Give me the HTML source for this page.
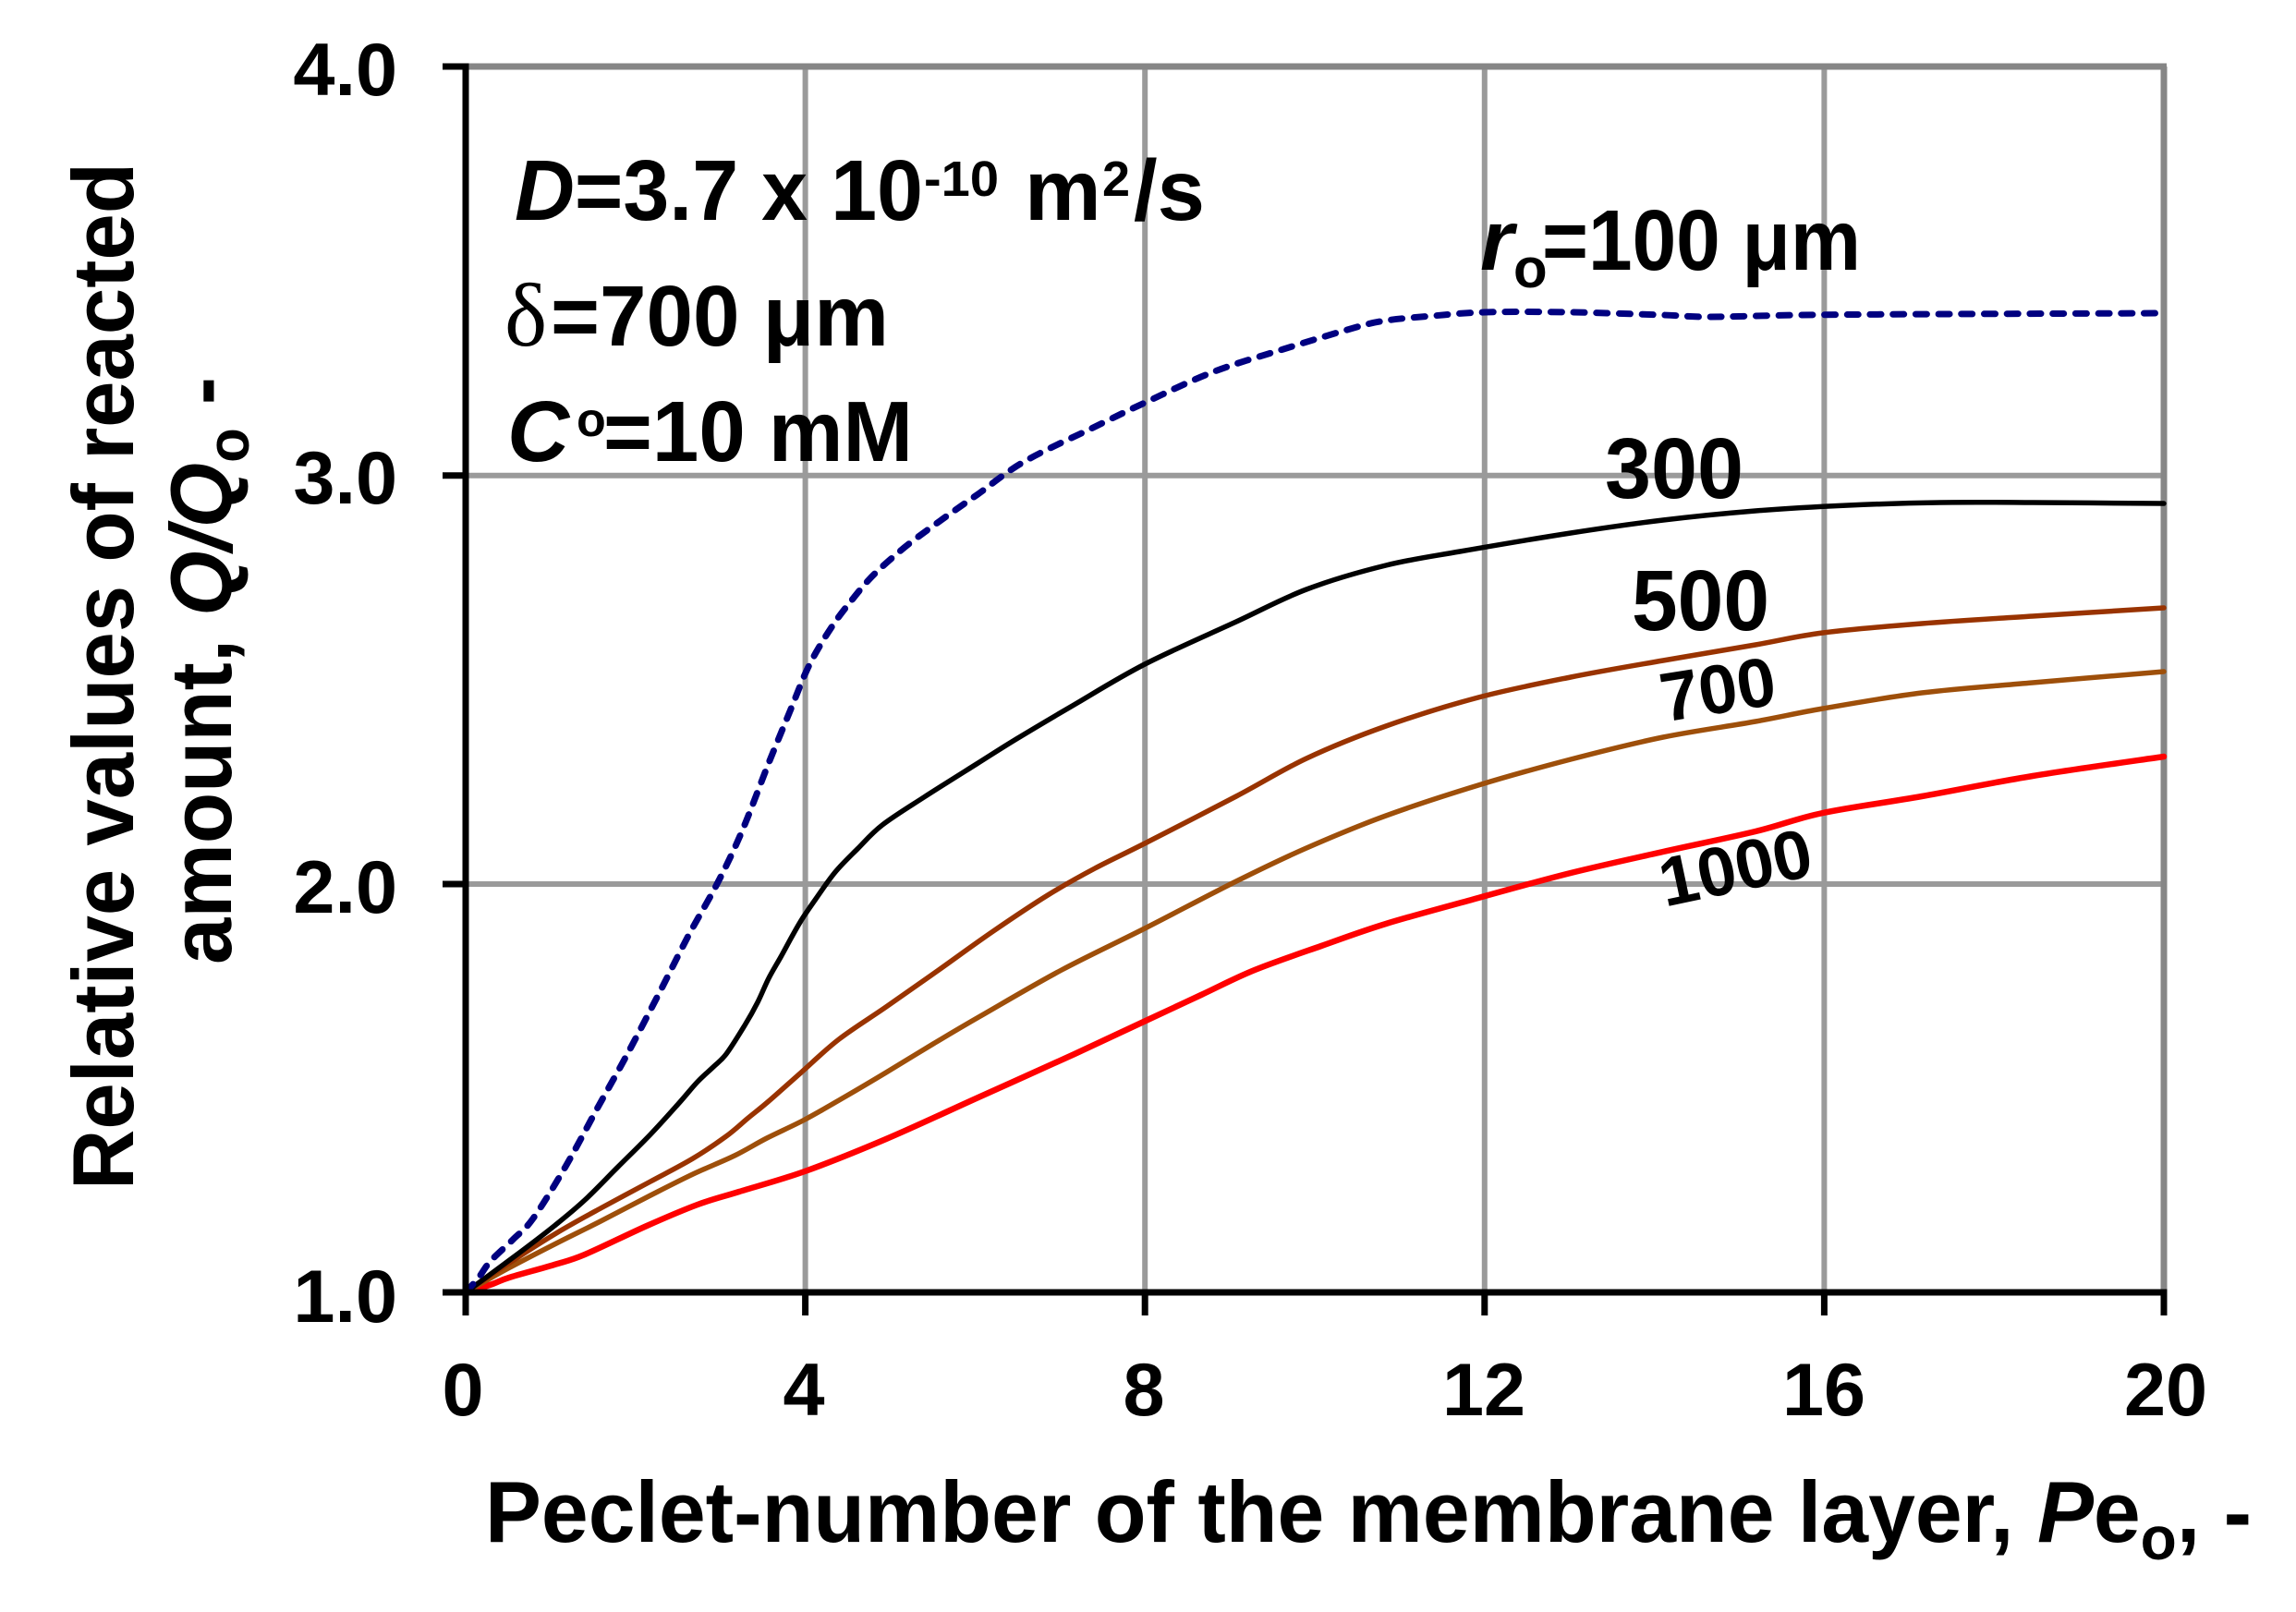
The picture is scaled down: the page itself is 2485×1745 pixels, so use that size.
<!DOCTYPE html>
<html>
<head>
<meta charset="utf-8">
<style>
  html, body { margin: 0; padding: 0; background: #ffffff; }
  svg { display: block; }
  text { font-family: "Liberation Sans", Arial, sans-serif; font-weight: bold; fill: #000; }
</style>
</head>
<body>
<svg id="chart" width="2485" height="1745" viewBox="0 0 2485 1745" xmlns="http://www.w3.org/2000/svg">
  <rect x="0" y="0" width="2485" height="1745" fill="#ffffff"/>

  <!-- gridlines -->
  <g stroke="#9a9a9a" stroke-width="6" fill="none">
    <line x1="871.6" y1="72" x2="871.6" y2="1399"/>
    <line x1="1239.2" y1="72" x2="1239.2" y2="1399"/>
    <line x1="1606.8" y1="72" x2="1606.8" y2="1399"/>
    <line x1="1974.4" y1="72" x2="1974.4" y2="1399"/>
    <line x1="504" y1="957" x2="2342" y2="957"/>
    <line x1="504" y1="514.7" x2="2342" y2="514.7"/>
  </g>
  <g stroke="#868686" stroke-width="7" fill="none">
    <line x1="504" y1="72" x2="2345" y2="72"/>
    <line x1="2342" y1="72" x2="2342" y2="1399"/>
  </g>

  <!-- curves -->
  <g fill="none" stroke-linejoin="round" stroke-linecap="round">
    <!-- 1000 -->
    <polyline class="sm" stroke="#ff0000" stroke-width="6.5" points="504,1399 533,1390 551,1383 600,1369 633,1358 700,1327 755,1304 800,1290 871,1268 959,1233 1061,1187 1163,1141 1240,1105 1300,1077 1358,1050 1430,1024 1500,1000 1600,972 1700,945 1800,922 1900,900 1973,880 2080,862 2200,840 2342,819"/>
    <!-- 700 -->
    <polyline class="sm" stroke="#9e4f0a" stroke-width="5.5" points="504,1399 550,1373 602,1346 650,1322 704,1294 750,1271 795,1251 830,1232 871,1212 915,1187 959,1161 1010,1130 1061,1100 1149,1050 1239,1005 1338,954 1414,918 1500,883 1600,850 1700,822 1800,798 1900,781 1973,767 2080,750 2200,739 2342,727"/>
    <!-- 500 -->
    <polyline class="sm" stroke="#993300" stroke-width="5.5" points="504,1399 550,1368 602,1335 650,1308 704,1279 750,1254 786,1230 810,1210 832,1192 867,1161 908,1125 959,1090 1016,1050 1075,1008 1134,969 1185,940 1239,913 1338,862 1414,821 1500,786 1600,755 1700,733 1800,715 1900,698 1973,685 2080,675 2200,667 2342,658"/>
    <!-- 300 -->
    <polyline class="sm" stroke="#000000" stroke-width="5.5" points="504,1399 530,1380 561,1357 600,1327 633,1299 668,1264 704,1228 735,1194 755,1171 772,1155 786,1141 806,1110 820,1085 832,1059 845,1036 857,1014 868,995 883,973 904,944 928,919 955,893 1000,863 1057,827 1100,800 1159,765 1239,719 1338,673 1414,638 1500,612 1580,597 1700,577 1800,563 1900,553 2000,547 2100,544 2200,544 2342,545"/>
    <!-- 100 dashed -->
    <polyline class="sm" stroke="#000080" stroke-width="7" stroke-dasharray="12 12.7" points="504,1399 518,1383 531,1365 555,1342 577,1319 612,1263 648,1197 679,1141 714,1074 745,1013 776,957 803,900 832,826 857,765 873,726 888,698 904,673 920,652 940,628 962,607 986,587 1020,562 1057,536 1108,500 1185,462 1239,436 1312,403 1389,378 1465,355 1500,347 1550,342 1607,338 1700,338 1800,341 1850,343 1950,341 2100,340 2342,339"/>
  </g>

  <!-- axes -->
  <g stroke="#000" stroke-width="7" fill="none">
    <line x1="504" y1="68.5" x2="504" y2="1402.5"/>
    <line x1="500.5" y1="1399" x2="2345.5" y2="1399"/>
    <line x1="479" y1="72" x2="504" y2="72"/>
    <line x1="479" y1="514.7" x2="504" y2="514.7"/>
    <line x1="479" y1="957" x2="504" y2="957"/>
    <line x1="479" y1="1399" x2="504" y2="1399"/>
    <line x1="504" y1="1399" x2="504" y2="1424"/>
    <line x1="871.6" y1="1399" x2="871.6" y2="1424"/>
    <line x1="1239.2" y1="1399" x2="1239.2" y2="1424"/>
    <line x1="1606.8" y1="1399" x2="1606.8" y2="1424"/>
    <line x1="1974.4" y1="1399" x2="1974.4" y2="1424"/>
    <line x1="2342" y1="1399" x2="2342" y2="1424"/>
  </g>

  <!-- y tick labels -->
  <g font-size="81" text-anchor="end">
    <text x="430" y="103">4.0</text>
    <text x="430" y="545">3.0</text>
    <text x="430" y="988">2.0</text>
    <text x="430" y="1431">1.0</text>
  </g>
  <!-- x tick labels -->
  <g font-size="81" text-anchor="middle">
    <text x="501" y="1532">0</text>
    <text x="870" y="1532">4</text>
    <text x="1238" y="1532">8</text>
    <text x="1606" y="1532">12</text>
    <text x="1974" y="1532">16</text>
    <text x="2344" y="1532">20</text>
  </g>

  <!-- x axis title -->
  <text x="525" y="1669" font-size="94" textLength="1912" lengthAdjust="spacingAndGlyphs">Peclet-number of the membrane layer, <tspan font-style="italic">P</tspan>e<tspan font-size="66" dy="19">o</tspan><tspan dy="-19">, -</tspan></text>

  <!-- y axis title -->
  <text transform="translate(144,1288) rotate(-90)" x="0" y="0" font-size="94" textLength="1112" lengthAdjust="spacingAndGlyphs">Relative values of reacted</text>
  <text transform="translate(250,1044) rotate(-90)" x="0" y="0" font-size="94" textLength="636" lengthAdjust="spacingAndGlyphs">amount, <tspan font-style="italic">Q/Q</tspan><tspan font-size="64" dy="19">o</tspan><tspan dy="-19"> -</tspan></text>

  <!-- annotation block -->
  <text x="557" y="238" font-size="93" textLength="442" lengthAdjust="spacingAndGlyphs"><tspan font-style="italic">D</tspan>=3.7 x 10</text>
  <text x="1000" y="212" font-size="54" textLength="81" lengthAdjust="spacingAndGlyphs">-10</text>
  <text x="1109" y="238" font-size="93">m</text>
  <text x="1193" y="212" font-size="54">2</text>
  <text x="1227" y="238" font-size="93" textLength="77" lengthAdjust="spacingAndGlyphs">/s</text>

  <text x="546" y="374" font-size="98" style="font-family:'Liberation Serif','Times New Roman',serif;font-weight:normal">δ</text>
  <text x="596" y="374" font-size="93" textLength="366" lengthAdjust="spacingAndGlyphs">=700 μm</text>

  <text x="549" y="499" font-size="93" font-style="italic">C</text>
  <text x="624" y="472" font-size="52">o</text>
  <text x="653" y="499" font-size="93" textLength="335" lengthAdjust="spacingAndGlyphs">=10 mM</text>

  <!-- curve labels -->
  <text x="1602" y="292" font-size="93" font-style="italic">r</text>
  <text x="1638" y="311" font-size="60">o</text>
  <text x="1669" y="292" font-size="93" textLength="345" lengthAdjust="spacingAndGlyphs">=100 μm</text>

  <text x="1737" y="539" font-size="93" textLength="150" lengthAdjust="spacingAndGlyphs">300</text>
  <text x="1766" y="682" font-size="93" textLength="149" lengthAdjust="spacingAndGlyphs">500</text>

  <text transform="translate(1859,745) rotate(-9)" x="0" y="27" font-size="75" text-anchor="middle">700</text>
  <text transform="translate(1878,938) rotate(-12)" x="0" y="27" font-size="75" text-anchor="middle">1000</text>
</svg>
<script>
(function(){
  var NS = "http://www.w3.org/2000/svg";
  var pls = document.querySelectorAll("polyline.sm");
  for (var i = 0; i < pls.length; i++) {
    var pl = pls[i];
    var raw = pl.getAttribute("points").trim().split(/\s+/);
    var p = raw.map(function(s){ var a = s.split(","); return [parseFloat(a[0]), parseFloat(a[1])]; });
    if (p.length < 3) continue;
    var d = "M" + p[0][0] + "," + p[0][1];
    for (var k = 0; k < p.length - 1; k++) {
      var p0 = p[k > 0 ? k - 1 : k], p1 = p[k], p2 = p[k + 1], p3 = p[k + 2 < p.length ? k + 2 : k + 1];
      var c1x = p1[0] + (p2[0] - p0[0]) / 6, c1y = p1[1] + (p2[1] - p0[1]) / 6;
      var c2x = p2[0] - (p3[0] - p1[0]) / 6, c2y = p2[1] - (p3[1] - p1[1]) / 6;
      d += " C" + c1x.toFixed(1) + "," + c1y.toFixed(1) + " " + c2x.toFixed(1) + "," + c2y.toFixed(1) + " " + p2[0] + "," + p2[1];
    }
    var path = document.createElementNS(NS, "path");
    var attrs = ["stroke", "stroke-width", "stroke-dasharray"];
    for (var j = 0; j < attrs.length; j++) {
      var v = pl.getAttribute(attrs[j]);
      if (v) path.setAttribute(attrs[j], v);
    }
    path.setAttribute("d", d);
    path.setAttribute("fill", "none");
    pl.parentNode.replaceChild(path, pl);
  }
})();
</script>
</body>
</html>
